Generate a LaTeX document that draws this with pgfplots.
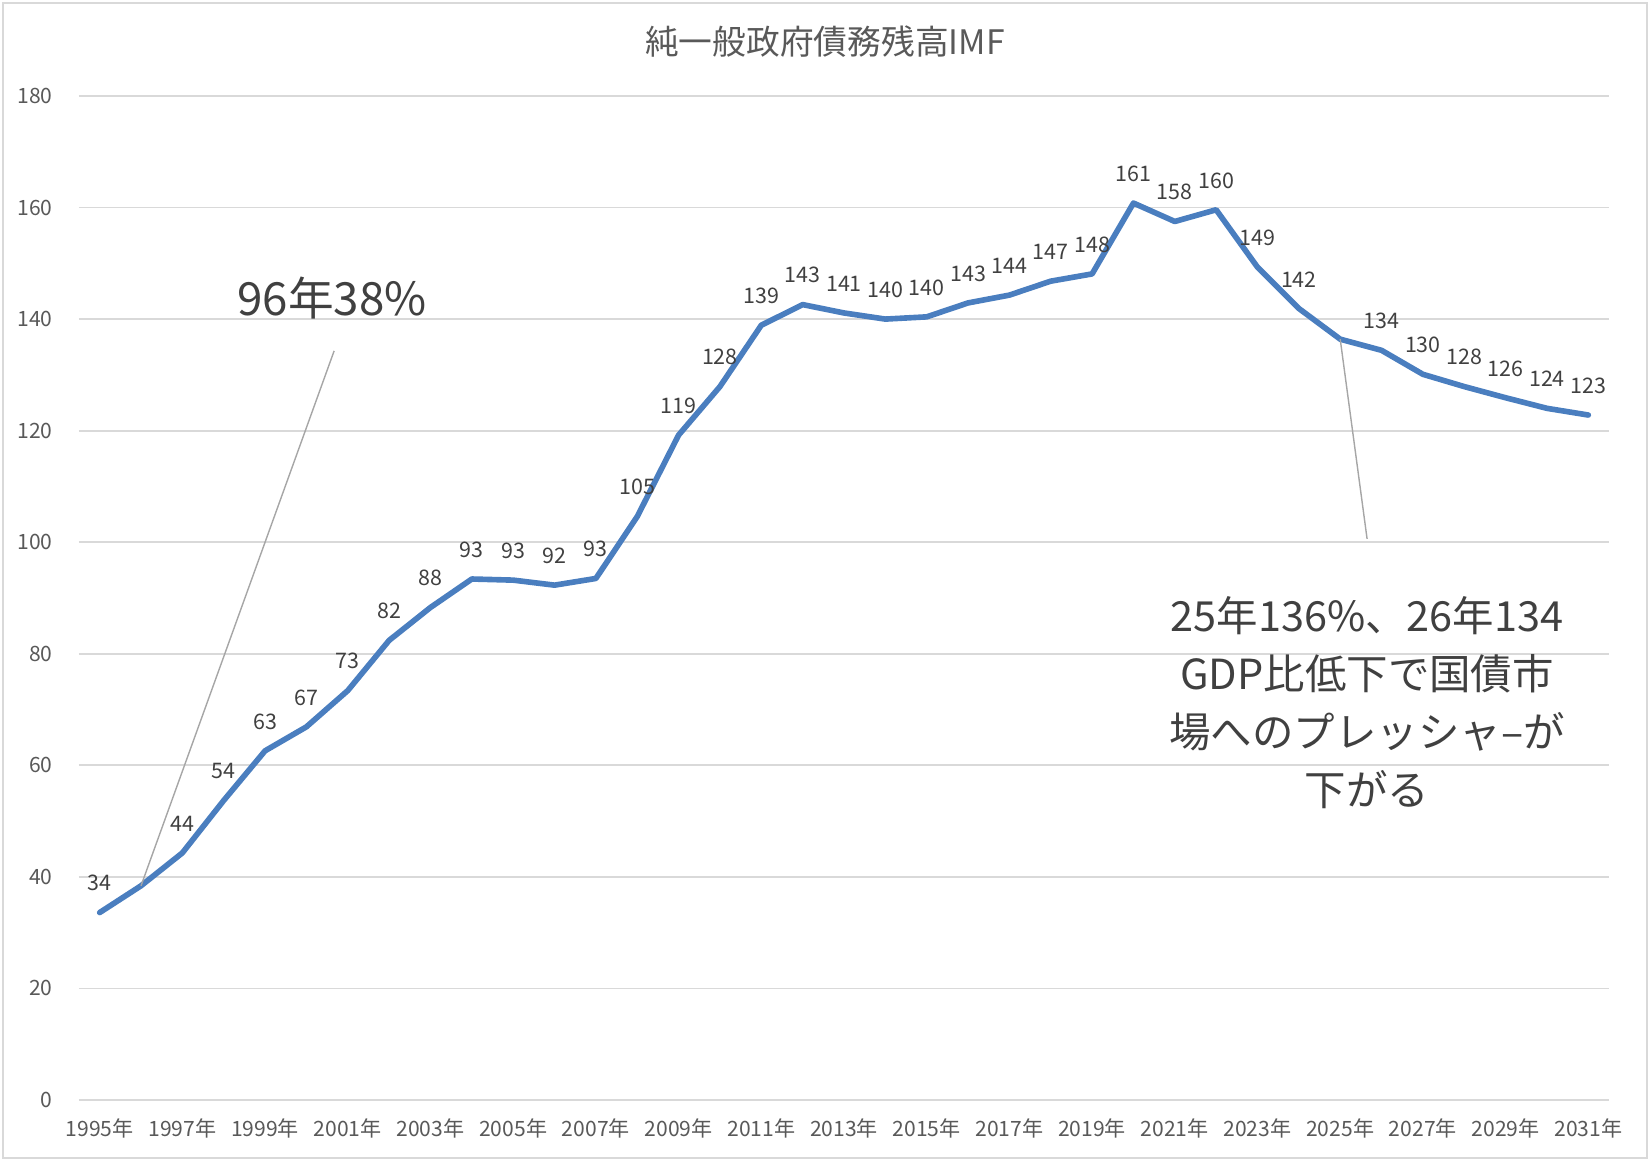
\documentclass[border=0pt]{standalone}
\usepackage{fontspec}
\setmainfont{Noto Sans CJK JP}
\usepackage{pgfplots}
\pgfplotsset{compat=1.18}
\definecolor{tickc}{HTML}{595959}
\definecolor{labc}{HTML}{404040}
\definecolor{annc}{HTML}{404040}
\definecolor{titlec}{HTML}{595959}
\definecolor{gridc}{HTML}{D9D9D9}
\definecolor{leadc}{HTML}{A6A6A6}
\definecolor{linec}{HTML}{4A7EBF}
\begin{document}
\begin{tikzpicture}
\useasboundingbox (0,0) rectangle (165mm,116.4mm);
\draw[gridc, line width=0.6pt] (0.3mm,0.6mm) rectangle (164.7mm,116.1mm);
\node[font=\fontsize{9.6}{11}\selectfont, text=titlec] at (82.5mm,112.2mm) {純一般政府債務残高IMF};
\begin{axis}[
  at={(7.9mm,6.4mm)}, anchor=south west,
  scale only axis, width=153mm, height=100.4mm,
  xmin=-0.5, xmax=36.5, ymin=0, ymax=180,
  ytick={0,20,...,180},
  xtick={0,2,...,36},
  xticklabels={1995年,1997年,1999年,2001年,2003年,2005年,2007年,2009年,2011年,2013年,2015年,2017年,2019年,2021年,2023年,2025年,2027年,2029年,2031年},
  ymajorgrids,
  grid style={draw=gridc, line width=0.5pt},
  axis line style={draw=none},
  tick style={draw=none},
  major tick length=0pt,
  tick label style={font=\fontsize{6}{7}\selectfont, text=tickc},
  xticklabel style={yshift=-0.6mm},
  yticklabel style={xshift=-1.4mm},
  /pgf/number format/assume math mode=true,
  clip=false,
]
\addplot[color=linec, line width=1.6pt, line join=round, line cap=round, mark=none] table {
x y
0 33.6
1 38.4
2 44.3
3 53.7
4 62.6
5 66.9
6 73.4
7 82.4
8 88.3
9 93.4
10 93.2
11 92.3
12 93.5
13 104.6
14 119.2
15 127.9
16 138.9
17 142.6
18 141.1
19 140.0
20 140.4
21 142.9
22 144.3
23 146.8
24 148.1
25 160.8
26 157.5
27 159.6
28 149.3
29 141.9
30 136.4
31 134.4
32 130.1
33 127.9
34 125.9
35 124.0
36 122.8
};
\addplot[draw=none, mark=none, nodes near coords, point meta=explicit symbolic,
  nodes near coords style={font=\fontsize{6.1}{7}\selectfont, text=labc, yshift=0.9mm}]
  table[meta=lab] {
x y lab
0 33.6 34
2 44.3 44
3 53.7 54
4 62.6 63
5 66.9 67
6 73.4 73
7 82.4 82
8 88.3 88
9 93.4 93
10 93.2 93
11 92.3 92
12 93.5 93
13 104.6 105
14 119.2 119
15 127.9 128
16 138.9 139
17 142.6 143
18 141.1 141
19 140.0 140
20 140.4 140
21 142.9 143
22 144.3 144
23 146.8 147
24 148.1 148
25 160.8 161
26 157.5 158
27 159.6 160
28 149.3 149
29 141.9 142
31 134.4 134
32 130.1 130
33 127.9 128
34 125.9 126
35 124.0 124
36 122.8 123
};
\draw[leadc, line width=0.4pt] (axis cs:1,38.4) -- (axis cs:5.67,134.3);
\node[font=\fontsize{13}{15}\selectfont, text=annc] at (axis cs:5.62,143.8) {96年38\%};
\draw[leadc, line width=0.4pt] (axis cs:30,136.4) -- (axis cs:30.65,100.6);
\node[align=center, font=\fontsize{11.8}{16.5}\selectfont, text=annc] at (axis cs:30.65,71.2) {25年136\%、26年134\\GDP比低下で国債市\\場へのプレッシャ–が\\下がる};
\end{axis}
\end{tikzpicture}
\end{document}
